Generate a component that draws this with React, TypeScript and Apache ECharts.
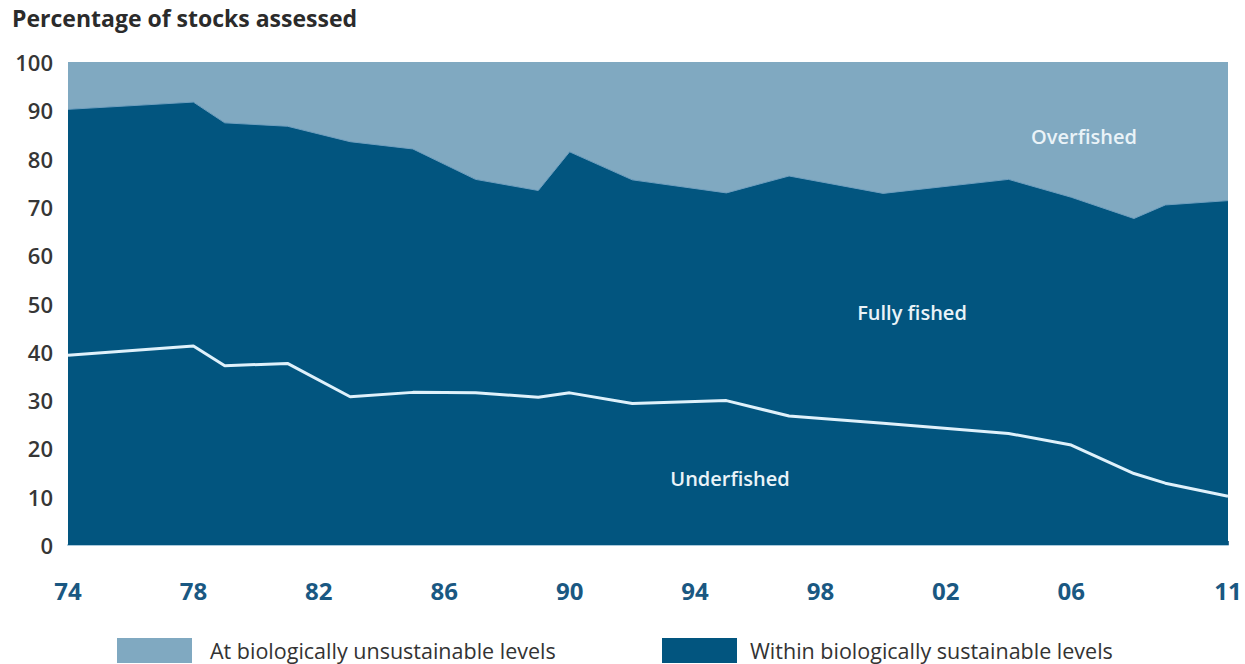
import React, { useEffect, useRef } from "react";
import * as echarts from "echarts";

// FAO assessment years
const years = [1974, 1978, 1979, 1981, 1983, 1985, 1987, 1989, 1990, 1992, 1995, 1997, 2000, 2004, 2006, 2008, 2009, 2011];
// Within biologically sustainable levels (underfished + fully fished), %
const sustainable = [90.2, 91.7, 87.4, 86.7, 83.5, 82.0, 75.7, 73.4, 81.4, 75.6, 72.9, 76.4, 72.8, 75.7, 72.0, 67.6, 70.4, 71.3];
// At biologically unsustainable levels (overfished), %
const overfished = [9.8, 8.3, 12.6, 13.3, 16.5, 18.0, 24.3, 26.6, 18.6, 24.4, 27.1, 23.6, 27.2, 24.3, 28.0, 32.4, 29.6, 28.7];
// Underfished, %
const underfished = [39.3, 41.2, 37.1, 37.6, 30.7, 31.6, 31.5, 30.6, 31.5, 29.3, 29.9, 26.7, 25.2, 23.1, 20.7, 14.8, 12.8, 10.1];

const labelYears = [1974, 1978, 1982, 1986, 1990, 1994, 1998, 2002, 2006, 2011];
const legendNames = ["At biologically unsustainable levels", "Within biologically sustainable levels"];
const regionNames = ["Overfished", "Fully fished", "Underfished"];

const DARK = "#02557f";
const LIGHT = "#80a9c1";
const FONT = "'Open Sans', 'Noto Sans', sans-serif";

export default function App() {
  const ref = useRef<HTMLDivElement>(null);
  useEffect(() => {
    const chart = echarts.init(ref.current!, null, { renderer: "svg" });
    chart.setOption({
      animation: false,
      textStyle: { fontFamily: FONT },
      grid: { left: 68, right: 17, top: 62, bottom: 119, show: true, backgroundColor: LIGHT, borderWidth: 0 },
      xAxis: {
        type: "value",
        min: 1974,
        max: 2011,
        interval: 1,
        splitLine: { show: false },
        axisLine: { show: true, lineStyle: { color: "#a9c9dc", width: 2 } },
        axisTick: { show: true, inside: true, length: 4, lineStyle: { color: "#3d6f92", width: 1 } },
        axisLabel: {
          customValues: labelYears,
          formatter: (v: number) => String(v % 100).padStart(2, "0"),
          fontSize: 24,
          fontWeight: "bold",
          color: "#1a5882",
          fontFamily: FONT,
          margin: 33,
        },
      },
      yAxis: {
        type: "value",
        min: 0,
        max: 100,
        interval: 10,
        splitLine: { show: false },
        axisLine: { show: false },
        axisTick: { show: false },
        axisLabel: { fontSize: 22, fontWeight: 600, color: "#363636", margin: 15, fontFamily: FONT },
      },
      series: [
        {
          name: legendNames[1],
          type: "line",
          stack: "total",
          symbol: "none",
          silent: true,
          data: years.map((y, i) => [y, sustainable[i]]),
          lineStyle: { width: 1, color: "#6f9fbf" },
          areaStyle: { color: DARK, opacity: 1 },
          z: 2,
        },
        {
          name: legendNames[0],
          type: "line",
          stack: "total",
          symbol: "none",
          silent: true,
          data: years.map((y, i) => [y, overfished[i]]),
          lineStyle: { width: 0 },
          areaStyle: { color: LIGHT, opacity: 1 },
          z: 1,
        },
        {
          name: regionNames[2],
          type: "line",
          symbol: "none",
          silent: true,
          data: years.map((y, i) => [y, underfished[i]]),
          lineStyle: { width: 3, color: "#dff1fb" },
          z: 3,
        },
      ],
      graphic: [
        {
          type: "text",
          left: 12,
          top: 6,
          style: { text: "Percentage of stocks assessed", font: `bold 23px ${FONT}`, fill: "#2b2b2b" },
        },
        {
          type: "text",
          x: 1084,
          y: 136,
          style: { text: regionNames[0], font: `600 20px ${FONT}`, fill: "#eaf3f8", textAlign: "center", textVerticalAlign: "middle" },
          z: 10,
        },
        {
          type: "text",
          x: 912,
          y: 312,
          style: { text: regionNames[1], font: `600 20px ${FONT}`, fill: "#eaf3f8", textAlign: "center", textVerticalAlign: "middle" },
          z: 10,
        },
        {
          type: "text",
          x: 730,
          y: 478,
          style: { text: regionNames[2], font: `600 20px ${FONT}`, fill: "#eaf3f8", textAlign: "center", textVerticalAlign: "middle" },
          z: 10,
        },
        { type: "rect", shape: { x: 117, y: 638, width: 75, height: 25 }, style: { fill: LIGHT } },
        {
          type: "text",
          x: 210,
          y: 650,
          style: { text: legendNames[0], font: `21.5px ${FONT}`, fill: "#333333", textVerticalAlign: "middle" },
        },
        { type: "rect", shape: { x: 662, y: 638, width: 75, height: 25 }, style: { fill: DARK } },
        {
          type: "text",
          x: 750,
          y: 650,
          style: { text: legendNames[1], font: `21.5px ${FONT}`, fill: "#333333", textVerticalAlign: "middle" },
        },
      ],
    });
    return () => chart.dispose();
  }, []);
  return (
    <div
      ref={ref}
      style={{ position: "fixed", left: 0, top: 0, width: 1245, height: 664, background: "#ffffff" }}
    />
  );
}
